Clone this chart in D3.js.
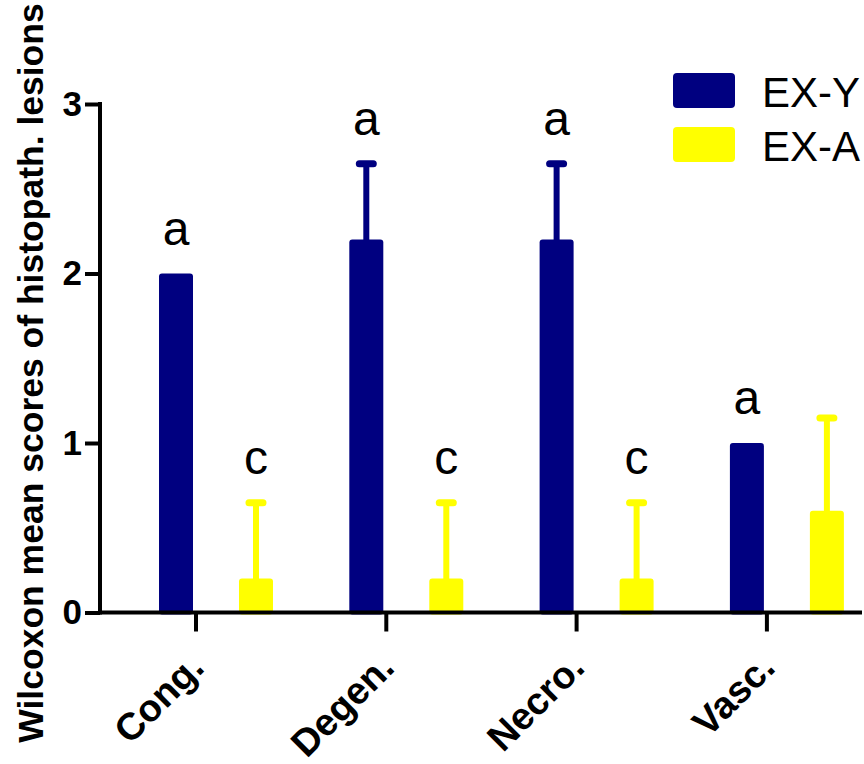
<!DOCTYPE html>
<html>
<head>
<meta charset="utf-8">
<script src="https://cdn.jsdelivr.net/npm/d3@7"></script>
<style>
  html, body { margin: 0; padding: 0; background: #ffffff; }
  svg { display: block; }
  text { font-family: "Liberation Sans", Arial, sans-serif; }
</style>
</head>
<body>
<script>
// ---- data ----
const categories = ["Cong.", "Degen.", "Necro.", "Vasc."];
const series = ["EX-Y", "EX-A"];
const exYValues = [2.0, 2.2, 2.2, 1.0];
const exAValues = [0.2, 0.2, 0.2, 0.6];
const exYErrors = [0, 0.447, 0.447, 0];
const exAErrors = [0.447, 0.447, 0.447, 0.548];
const exYLetters = ["a", "a", "a", "a"];
const exALetters = ["c", "c", "c", ""];
const yTickValues = [0, 1, 2, 3];
const yTitle = "Wilcoxon mean scores of histopath. lesions";
const colors = { "EX-Y": "#000080", "EX-A": "#ffff00" };

const W = 864, H = 764;
const svg = d3.select("body").append("svg").attr("width", W).attr("height", H);

const rows = [];
categories.forEach((c, i) => {
  rows.push({ cat: c, s: "EX-Y", v: exYValues[i], e: exYErrors[i], letter: exYLetters[i] });
  rows.push({ cat: c, s: "EX-A", v: exAValues[i], e: exAErrors[i], letter: exALetters[i] });
});

// ---- scales ----
const y = d3.scaleLinear().domain([0, 3]).range([612.5, 104]);
const x0 = d3.scaleBand().domain(categories).range([120.85, 882.05]).paddingInner(0).paddingOuter(0);
const x1 = d3.scaleBand().domain(series).range([0, x0.bandwidth()]).paddingInner(0.575).paddingOuter(0.477);

const axisX = 100;
const axisY = y(0);

// ---- bars ----
const g = svg.append("g");
g.selectAll("rect.bar").data(rows).join("rect")
  .attr("class", "bar")
  .attr("x", d => x0(d.cat) + x1(d.s))
  .attr("y", d => y(d.v))
  .attr("width", x1.bandwidth())
  .attr("height", d => y(0) - y(d.v) + 2)
  .attr("rx", 3)
  .attr("fill", d => colors[d.s]);

// ---- error bars (upper only) ----
const errRows = rows.filter(d => d.e > 0);
const cx = d => x0(d.cat) + x1(d.s) + x1.bandwidth() / 2;
g.selectAll("line.err").data(errRows).join("line")
  .attr("class", "err")
  .attr("x1", cx).attr("x2", cx)
  .attr("y1", d => y(d.v) + 2)
  .attr("y2", d => y(d.v + d.e))
  .attr("stroke", d => colors[d.s])
  .attr("stroke-width", 6);
g.selectAll("rect.cap").data(errRows).join("rect")
  .attr("class", "cap")
  .attr("x", d => cx(d) - 10.5)
  .attr("y", d => y(d.v + d.e) - 3.5)
  .attr("width", 21)
  .attr("height", 7)
  .attr("rx", 3.5)
  .attr("fill", d => colors[d.s]);

// ---- significance letters ----
g.selectAll("text.letter").data(rows.filter(d => d.letter)).join("text")
  .attr("class", "letter")
  .attr("x", cx)
  .attr("y", d => y(d.v + d.e) - 29)
  .attr("text-anchor", "middle")
  .attr("font-size", 48)
  .attr("fill", "#000")
  .text(d => d.letter);

// ---- y axis ----
const yAxis = svg.append("g").attr("transform", `translate(${axisX},0)`)
  .call(d3.axisLeft(y).tickValues(yTickValues).tickFormat(d3.format("d")).tickSize(15).tickPadding(3).tickSizeOuter(0));
yAxis.select(".domain").attr("stroke", "#000").attr("stroke-width", 4)
  .attr("d", `M0,${y(3) - 2}V${axisY + 2}`);
yAxis.selectAll(".tick line").attr("stroke", "#000").attr("stroke-width", 4);
yAxis.selectAll(".tick text").attr("font-size", 35).attr("font-weight", "bold").attr("fill", "#000")
  .attr("font-family", "Liberation Sans, Arial, sans-serif");

// ---- x axis ----
svg.append("line")
  .attr("x1", axisX - 2).attr("x2", 862)
  .attr("y1", axisY).attr("y2", axisY)
  .attr("stroke", "#000").attr("stroke-width", 4);
const xAxis = svg.append("g").attr("transform", `translate(-20,${axisY})`)
  .call(d3.axisBottom(x0).tickSize(19).tickSizeOuter(0));
xAxis.select(".domain").remove();
xAxis.selectAll(".tick line").attr("stroke", "#000").attr("stroke-width", 4);
xAxis.selectAll(".tick text")
  .attr("y", 0).attr("dy", 0).attr("x", 0)
  .attr("transform", "translate(10,57) rotate(-45)")
  .attr("text-anchor", "end")
  .attr("font-size", 38).attr("font-weight", "bold").attr("fill", "#000")
  .attr("font-family", "Liberation Sans, Arial, sans-serif");

// ---- y title ----
svg.append("text")
  .attr("transform", `translate(43,373) rotate(-90)`)
  .attr("text-anchor", "middle")
  .attr("font-size", 35.5)
  .attr("font-weight", "bold")
  .attr("fill", "#000")
  .text(yTitle);

// ---- legend ----
const leg = svg.append("g").selectAll("g").data(series).join("g")
  .attr("transform", (d, i) => `translate(673,${73 + i * 54})`);
leg.append("rect").attr("width", 62).attr("height", 35).attr("rx", 4)
  .attr("fill", d => colors[d]);
leg.append("text").attr("x", 89).attr("y", 34)
  .attr("font-size", 42).attr("fill", "#000").text(d => d);
</script>
</body>
</html>
